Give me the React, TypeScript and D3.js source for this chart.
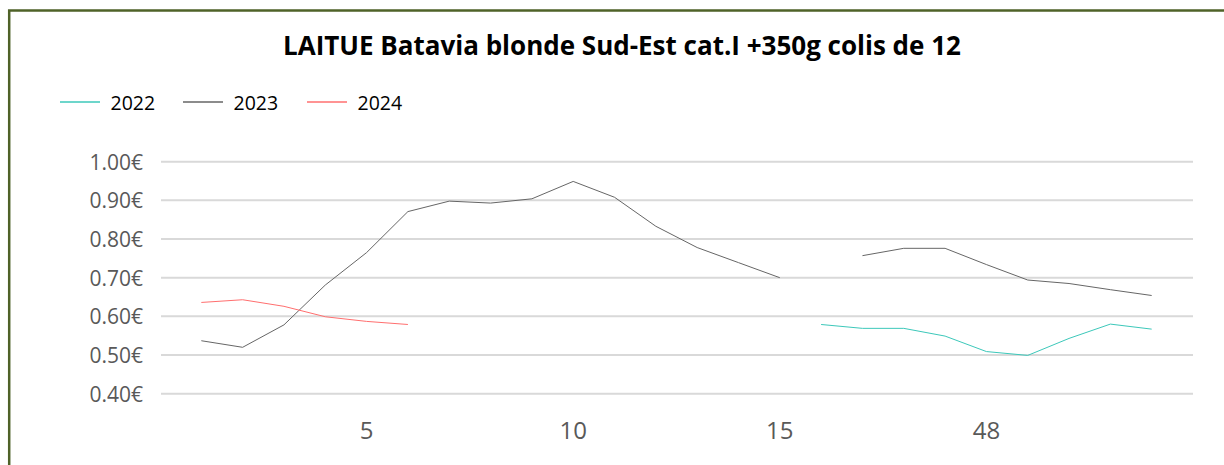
import React from "react";
import * as d3 from "d3";

// category axis: blank slot, weeks 1-15, weeks 44-52, blank slot
const weekLabels = ["", "1", "2", "3", "4", "5", "6", "7", "8", "9", "10", "11", "12", "13", "14", "15",
  "44", "45", "46", "47", "48", "49", "50", "51", "52", ""];

const values2022 = [null, null, null, null, null, null, null, null, null, null, null, null, null, null, null, null,
  0.579, 0.569, 0.569, 0.549, 0.509, 0.499, 0.543, 0.580, 0.567, null];
const values2023 = [null, 0.537, 0.520, 0.578, 0.681, 0.765, 0.871, 0.898, 0.893, 0.904, 0.949, 0.908, 0.833, 0.778, 0.739, 0.700,
  null, 0.757, 0.776, 0.776, 0.734, 0.694, 0.685, 0.669, 0.654, null];
const values2024 = [null, 0.636, 0.643, 0.626, 0.599, 0.587, 0.579, null, null, null, null, null, null, null, null, null,
  null, null, null, null, null, null, null, null, null, null];

const seriesNames = ["2022", "2023", "2024"];
const seriesColors = ["#3cc8ba", "#666666", "#ff6f6f"];
const yTicks = [0.4, 0.5, 0.6, 0.7, 0.8, 0.9, 1.0];

const W = 1224;
const H = 465;

const App = () => {
  const x = d3.scalePoint<number>()
    .domain(d3.range(weekLabels.length))
    .range([160, 1193]);
  const y = d3.scaleLinear().domain([0.4, 1.0]).range([393.7, 161.7]);

  const line = d3.line<number | null>()
    .defined(d => d != null)
    .x((d, i) => x(i) as number)
    .y(d => y(d as number));

  const series = [values2022, values2023, values2024];
  const legendX = [60, 183, 307];

  return (
    <svg width={W} height={H} style={{ position: "absolute", left: 0, top: 0 }}
      fontFamily="'Open Sans', 'Noto Sans', sans-serif">
      <rect x={0} y={0} width={W} height={H} fill="white" />
      <rect x={9.2} y={10.5} width={W + 50} height={H + 50} fill="white" stroke="#4f6228" strokeWidth={2.5} />

      <text x={622} y={55} textAnchor="middle" fontSize={26} fontWeight="bold" fill="#000">
        LAITUE Batavia blonde Sud-Est cat.I +350g colis de 12
      </text>

      {seriesNames.map((name, i) => (
        <g key={name}>
          <line x1={legendX[i]} x2={legendX[i] + 40} y1={102} y2={102} stroke={seriesColors[i]} strokeWidth={1.3} />
          <text x={legendX[i] + 50.5} y={110} fontSize={19.5} fill="#000">{name}</text>
        </g>
      ))}

      {yTicks.map(t => (
        <g key={t}>
          <line x1={161} x2={1193} y1={y(t)} y2={y(t)} stroke="#d9d9d9" strokeWidth={2} />
          <text x={143} y={y(t) + 8} textAnchor="end" fontSize={21} fill="#595959">
            {t.toFixed(2)}€
          </text>
        </g>
      ))}

      {weekLabels.map((lab, i) => (i % 5 === 0 && lab !== "") ? (
        <text key={i} x={x(i)} y={439} textAnchor="middle" fontSize={24} fill="#595959">{lab}</text>
      ) : null)}

      {series.map((vals, i) => (
        <path key={i} d={line(vals) || ""} fill="none" stroke={seriesColors[i]} strokeWidth={1} />
      ))}
    </svg>
  );
};

export default App;
